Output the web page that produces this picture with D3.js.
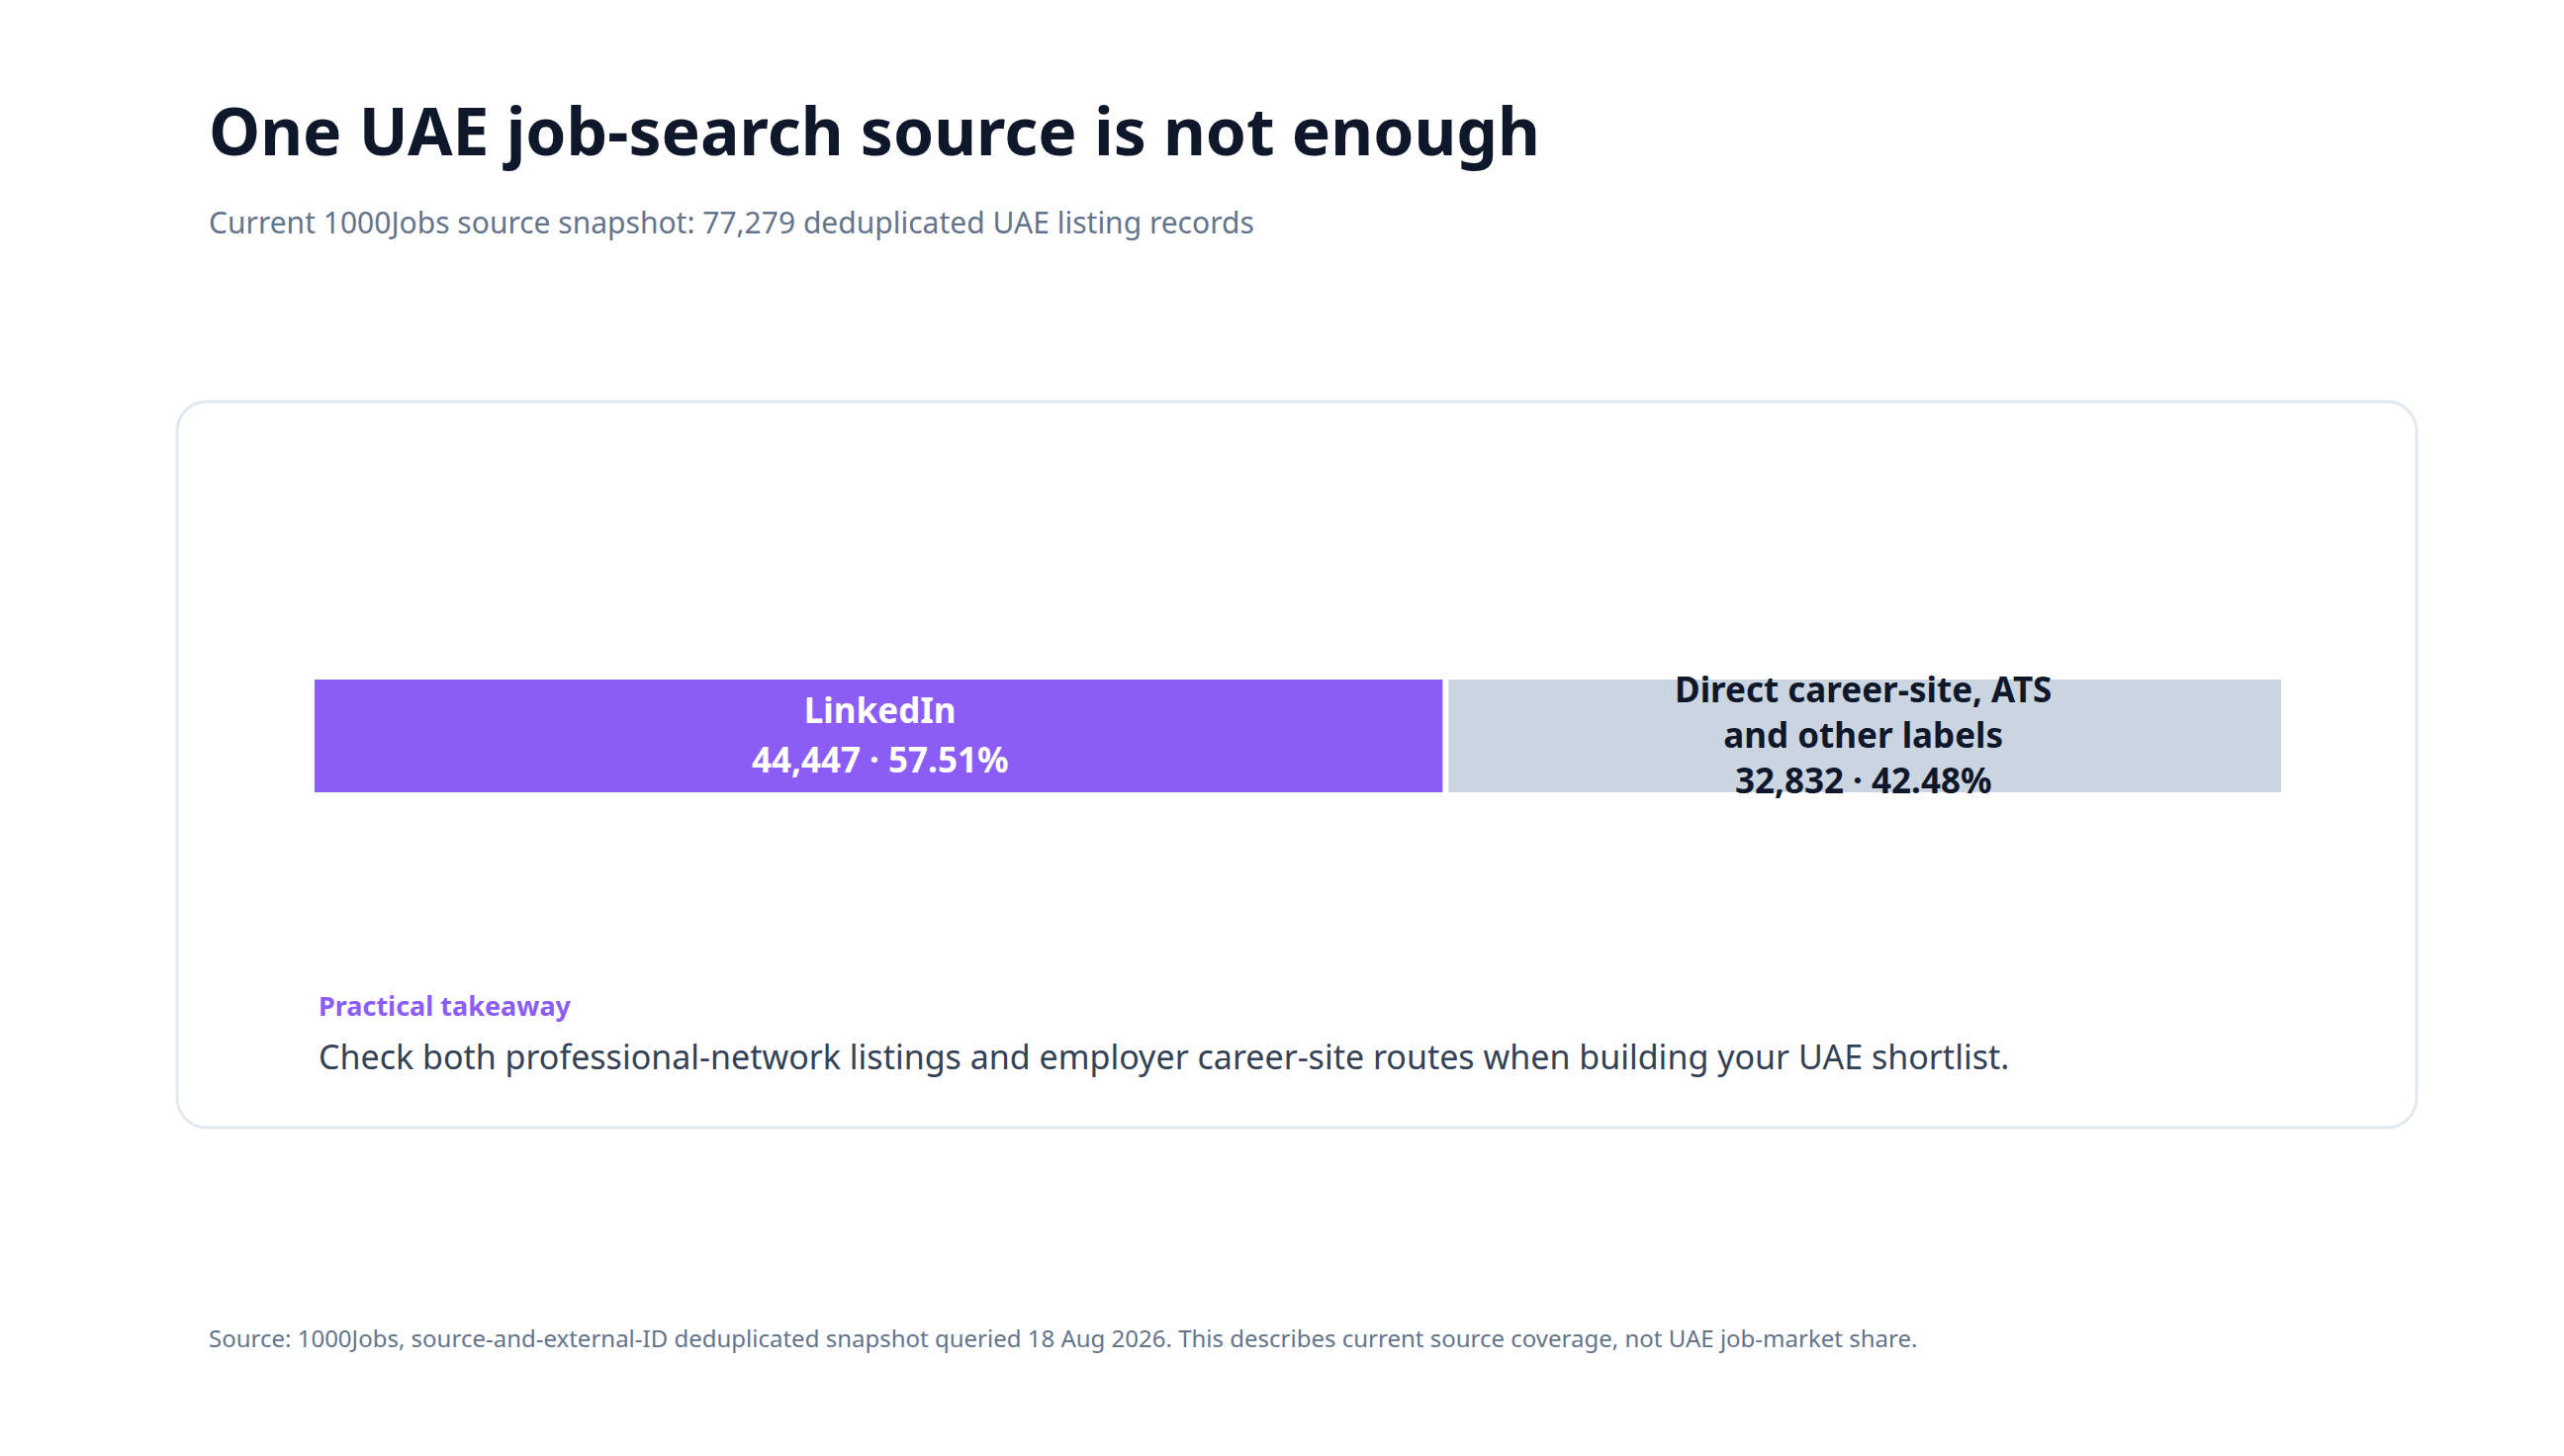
<!DOCTYPE html>
<html><head><meta charset="utf-8">
<script src="https://cdn.jsdelivr.net/npm/d3@7"></script>
<style>body{margin:0;background:#fff;font-family:"Noto Sans",sans-serif}</style>
</head><body><svg id="c" width="2592" height="1472"></svg>
<script>
const categories = ["LinkedIn", "Direct career-site, ATS and other labels"];
const labelLines = [["LinkedIn"], ["Direct career-site, ATS", "and other labels"]];
const values = [44447, 32832];
const shares = ["57.51%", "42.48%"];
const total = 77279;

const svg = d3.select("#c");
const W = 2592;
svg.append("rect").attr("width", W).attr("height", 1472).attr("fill", "#fff");

svg.append("text").attr("x", 211).attr("y", 157).attr("font-size", 66).attr("font-weight", 700)
  .attr("fill", "#0f172a").text("One UAE job-search source is not enough");
svg.append("text").attr("x", 211).attr("y", 236).attr("font-size", 30).attr("fill", "#64748b")
  .text("Current 1000Jobs source snapshot: 77,279 deduplicated UAE listing records");

svg.append("rect").attr("x", 179).attr("y", 406).attr("width", 2264).attr("height", 734)
  .attr("rx", 30).attr("fill", "#fff").attr("stroke", "#e2e8f0").attr("stroke-width", 3);

const x = d3.scaleLinear().domain([0, total]).range([318, 2306]);
const y0 = 687, h = 114, gap = 6;
let cum = 0;
const segs = values.map((v, i) => { const s = { i, v, a: cum, b: cum + v }; cum += v; return s; });
const fmt = d3.format(",");

svg.selectAll("rect.bar").data(segs).join("rect").attr("class", "bar")
  .attr("x", d => x(d.a) + (d.i > 0 ? gap / 2 : 0))
  .attr("width", d => x(d.b) - x(d.a) - gap / 2)
  .attr("y", y0).attr("height", h)
  .attr("fill", d => d.i === 0 ? "#8b5cf6" : "#cbd5e1");

segs.forEach(d => {
  const cx = (x(d.a) + x(d.b)) / 2;
  const lines = labelLines[d.i].concat([fmt(d.v) + " · " + shares[d.i]]);
  const lh = d.i === 0 ? 50 : 46;
  const start = y0 + h / 2 - (lines.length - 1) * lh / 2 + 12;
  const t = svg.append("text").attr("text-anchor", "middle").attr("font-size", 35).attr("font-weight", 700)
    .attr("fill", d.i === 0 ? "#ffffff" : "#0f172a");
  lines.forEach((l, k) => t.append("tspan").attr("x", cx).attr("y", start + k * lh).text(l));
});

svg.append("text").attr("x", 322).attr("y", 1027).attr("font-size", 27).attr("font-weight", 700)
  .attr("fill", "#8b5cf6").text("Practical takeaway");
svg.append("text").attr("x", 322).attr("y", 1081).attr("font-size", 34).attr("fill", "#334155")
  .text("Check both professional-network listings and employer career-site routes when building your UAE shortlist.");

svg.append("text").attr("x", 211).attr("y", 1362).attr("font-size", 24).attr("fill", "#64748b")
  .text("Source: 1000Jobs, source-and-external-ID deduplicated snapshot queried 18 Aug 2026. This describes current source coverage, not UAE job-market share.");
</script></body></html>
